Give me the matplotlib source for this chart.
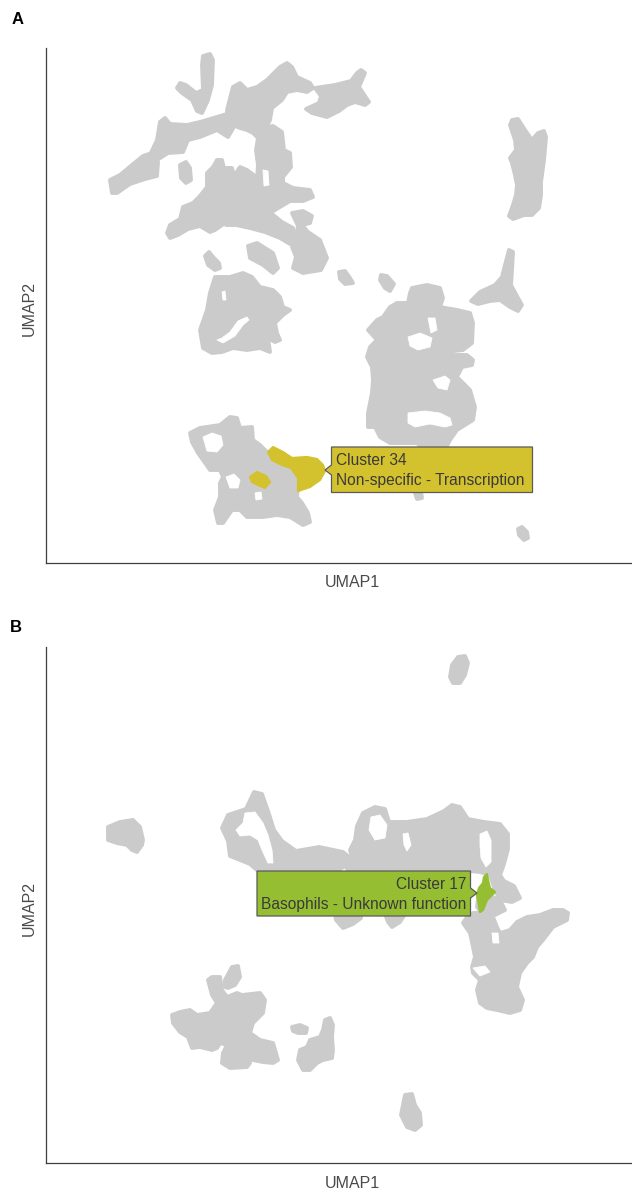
import matplotlib
matplotlib.use("Agg")
import matplotlib.pyplot as plt
from matplotlib.patches import Polygon

plt.rcParams['font.family'] = ['Liberation Sans', 'DejaVu Sans']

# ---------------- data: cluster outlines in UMAP units -------------
# Panel A (UMAP2 grows downward in these units -> axis inverted)
a_finger = [(203,56),(210,54),(213,60),(212,85),(208,100),(202,113),(197,111),(192,100),(182,93),(177,88),(180,83),(186,85),(196,93),(203,90),(202,65)]
a_left_lobe = [(110,180),(112,193),(117,193),(130,184),(145,179),(157,176),(158,162),(152,153),(143,156),(132,165),(120,175)]
a_band = [(150,155),(157,140),(160,122),(165,118),(170,124),(187,125),(200,122),(217,117),(230,113),(235,125),(228,137),(217,130),(200,137),(188,140),(183,152),(168,153),(157,160)]
a_top_mid = [(227,110),(233,87),(240,83),(247,90),(257,87),(267,80),(280,67),(287,63),(292,67),(297,77),(310,83),(313,88),(307,92),(297,90),(287,92),(282,100),(272,108),(270,120),(265,130),(257,137),(253,133),(247,130),(240,128),(233,125),(228,117)]
a_top_right = [(315,88),(335,85),(351,81),(357,73),(361,70),(365,73),(359,87),(365,96),(369,102),(365,105),(355,102),(347,105),(339,111),(327,117),(312,113),(306,109),(319,103),(321,96)]
a_column = [(260,128),(273,126),(282,132),(284,150),(290,153),(291,167),(283,177),(283,183),(293,188),(310,190),(313,197),(303,201),(290,201),(280,207),(270,213),(262,208),(258,195),(257,180),(258,165),(256,150),(258,138)]
a_wing = [(167,233),(170,225),(180,219),(183,207),(193,203),(200,196),(207,187),(207,173),(213,167),(217,160),(222,160),(224,168),(232,168),(234,176),(240,167),(247,170),(255,176),(258,193),(262,205),(258,212),(245,214),(232,216),(225,223),(215,230),(210,232),(200,226),(188,229),(178,235),(170,238)]
a_lower_band = [(228,214),(250,216),(262,210),(272,214),(282,222),(293,228),(296,240),(290,244),(280,238),(265,232),(250,228),(236,225),(226,225)]
a_knob_blob = [(292,213),(303,211),(312,216),(310,223),(302,225),(308,232),(320,240),(327,258),(321,270),(303,273),(293,268),(296,257),(292,247),(296,236),(298,226)]
a_dot1 = [(180,165),(186,162),(190,168),(191,180),(186,183),(181,178)]
a_dot2 = [(205,256),(209,252),(214,258),(219,263),(220,268),(215,270),(208,265)]
a_dot3 = [(248,246),(257,243),(273,253),(278,268),(273,273),(263,265),(250,258)]
a_mid_left = [(215,277),(230,277),(243,273),(252,277),(260,287),(273,290),(280,297),(283,307),(290,310),(283,315),(275,323),(277,333),(280,340),(275,342),(268,338),(270,352),(260,348),(247,350),(233,348),(222,352),(212,353),(203,348),(200,330),(207,310),(210,293)]
a_dot4 = [(339,272),(345,271),(350,278),(353,283),(345,284),(340,279)]
a_dot5 = [(381,275),(387,276),(394,284),(390,291),(385,288),(380,280)]
a_right_arm = [(509,250),(513,252),(512,270),(511,285),(518,298),(522,305),(518,311),(510,307),(500,300),(490,301),(478,304),(471,301),(480,292),(495,285),(502,277),(505,265)]
a_right_top = [(512,120),(518,119),(525,130),(532,140),(538,133),(544,131),(546,137),(544,160),(541,182),(541,195),(539,208),(532,215),(524,215),(513,219),(509,216),(513,205),(516,195),(517,185),(515,175),(512,163),(510,158),(516,150),(515,140),(510,125)]
a_right_net = [(412,288),(427,285),(440,288),(443,298),(440,307),(457,310),(470,313),(473,323),(472,343),(463,350),(445,352),(450,355),(467,355),(473,360),(472,365),(462,367),(457,377),(470,390),(475,407),(473,420),(457,430),(450,440),(447,446),(420,446),(417,443),(390,443),(380,437),(375,427),(368,427),(368,413),(372,393),(373,380),(372,367),(367,357),(370,347),(377,340),(368,330),(377,320),(383,317),(390,307),(397,303),(408,303),(410,293)]
a_bottom_left = [(190,433),(200,428),(220,425),(230,417),(237,418),(240,428),(252,427),(253,440),(260,445),(267,452),(273,460),(282,465),(290,467),(297,477),(298,487),(297,497),(302,503),(308,513),(310,522),(303,525),(290,517),(277,515),(263,517),(247,517),(240,510),(232,510),(223,523),(218,523),(215,510),(220,497),(220,483),(223,477),(220,470),(210,470),(203,460),(198,453),(192,442)]
a_dot6 = [(518,529),(522,527),(527,532),(528,538),(524,540),(519,535)]
a_dot7 = [(415,493),(421,492),(422,498),(417,499)]
a_gaps = [
    [(217,340),(223,343),(235,336),(243,325),(249,320),(247,317),(238,321),(230,332),(222,338)],
    [(222,292),(225,291),(226,300),(223,300)],
    [(408,337),(420,333),(432,338),(430,347),(418,350),(410,346)],
    [(408,413),(425,411),(440,413),(450,418),(452,425),(445,427),(430,424),(415,427),(408,423)],
    [(433,380),(445,376),(450,380),(447,390),(438,388)],
    [(428,318),(435,318),(437,330),(431,333)],
    [(203,437),(212,433),(221,436),(223,445),(217,452),(207,451)],
    [(226,477),(234,474),(240,480),(238,488),(230,488)],
    [(255,493),(261,492),(262,499),(256,500)],
    [(263,170),(268,171),(269,185),(264,186)],
]
a_cluster34 = [
    [(268,452),(273,447),(283,452),(292,458),(307,457),(317,459),(323,465),(325,471),(320,480),(310,487),(298,491),(298,478),(291,468),(282,465),(272,460)],
    [(250,477),(257,472),(266,476),(270,482),(265,488),(258,485),(252,482)],
]
a_label = ["Cluster 34", "Non-specific - Transcription"]

# Panel B
b_left = [(108,827),(120,822),(133,820),(140,827),(143,840),(142,845),(137,852),(132,850),(127,845),(117,843),(108,840)]
b_top = [(452,665),(458,657),(465,656),(468,663),(465,675),(460,683),(453,683),(450,677)]
b_bottom = [(405,1095),(412,1094),(415,1105),(420,1113),(421,1125),(415,1130),(407,1127),(401,1115),(403,1105)]
b_net_left = [(222,828),(228,815),(246,809),(254,792),(262,794),(268,811),(274,830),(282,841),(296,851),(319,847),(343,852),(353,860),(345,866),(335,872),(300,872),(270,872),(258,871),(250,864),(230,856),(228,841)]
b_net_right = [(357,826),(363,813),(375,807),(385,809),(389,822),(407,822),(427,819),(444,811),(452,805),(460,807),(468,819),(484,822),(500,824),(508,834),(508,849),(504,864),(500,875),(504,881),(514,886),(520,898),(512,902),(500,900),(495,890),(490,875),(480,872),(470,871),(420,871),(380,871),(350,872),(345,866),(353,860),(350,850),(355,840)]
b_under1 = [(335,914),(360,914),(361,918),(353,924),(343,928),(336,920)]
b_under2 = [(385,914),(405,914),(400,922),(392,927),(388,922)]
b_link = [(478,898),(490,896),(500,900),(505,910),(495,915),(483,915),(477,907)]
b_wing = [(480,913),(473,913),(467,917),(463,923),(470,933),(473,947),(475,957),(472,967),(473,973),(480,980),(477,990),(480,1003),(487,1008),(497,1010),(510,1013),(520,1010),(523,1000),(517,987),(520,973),(527,963),(533,957),(537,947),(543,940),(553,927),(567,920),(568,913),(563,910),(553,910),(540,915),(527,917),(517,922),(510,930),(500,933),(497,927),(493,917),(487,913)]
b_lower_left = [(172,1015),(180,1012),(190,1010),(197,1015),(210,1013),(217,1003),(212,995),(208,980),(212,977),(220,977),(222,990),(227,997),(237,993),(242,995),(260,993),(265,1000),(263,1013),(253,1023),(250,1033),(260,1040),(273,1043),(278,1060),(273,1063),(263,1062),(253,1060),(248,1057),(250,1063),(247,1067),(230,1068),(222,1063),(223,1053),(227,1045),(220,1043),(217,1048),(212,1050),(200,1047),(192,1048),(188,1037),(180,1032),(173,1023)]
b_sliver = [(225,980),(232,967),(238,966),(240,977),(235,985),(228,988),(225,987)]
b_dot = [(292,1027),(300,1025),(307,1028),(306,1033),(298,1033),(293,1031)]
b_lower_mid = [(325,1020),(330,1018),(333,1025),(332,1037),(333,1050),(332,1058),(323,1060),(317,1063),(310,1070),(303,1070),(298,1060),(300,1050),(307,1047),(310,1040),(320,1037),(323,1030)]
b_gaps = [
    [(245,813),(255,812),(263,823),(268,835),(272,850),(273,863),(268,863),(262,850),(258,840),(250,835),(240,836),(236,830),(243,823)],
    [(371,817),(380,815),(387,825),(385,838),(375,840),(369,830)],
    [(403,834),(408,833),(411,845),(407,851),(404,845)],
    [(480,834),(487,831),(491,840),(491,862),(486,867),(481,858),(480,845)],
    [(492,933),(498,933),(499,943),(493,943)],
    [(473,968),(485,966),(490,972),(480,976)],
]
b_cluster17 = [[(487,874),(488,880),(490,888),(495,892),(492,895),(487,900),(483,910),(480,912),(478,900),(477,895),(479,888),(483,883),(484,877)]]
b_label = ["Cluster 17", "Basophils - Unknown function"]

A_gray = [a_finger, a_left_lobe, a_band, a_top_mid, a_top_right, a_column, a_wing, a_lower_band,
          a_knob_blob, a_dot1, a_dot2, a_dot3, a_mid_left, a_dot4, a_dot5, a_right_arm, a_right_top,
          a_right_net, a_bottom_left, a_dot6, a_dot7]
B_gray = [b_left, b_top, b_bottom, b_net_left, b_net_right, b_under1, b_under2, b_link, b_wing,
          b_lower_left, b_sliver, b_dot, b_lower_mid]

GRAY = '#cbcbcb'
YELLOW = '#d3c22e'
GREEN = '#96be32'
TEXT = '#3a3a3a'
AXIS = '#3f3f3f'

W, H = 632, 1191
fig = plt.figure(figsize=(W/100, H/100), dpi=100)


def make_axes(top, bottom):
    ax = fig.add_axes([46/W, 1 - bottom/H, 1 - 46/W, (bottom - top)/H])
    ax.set_xlim(46, 632)
    ax.set_ylim(bottom, top)
    for s in ['top', 'right']:
        ax.spines[s].set_visible(False)
    for s in ['left', 'bottom']:
        ax.spines[s].set_color(AXIS)
        ax.spines[s].set_linewidth(0.9)
    ax.set_xticks([])
    ax.set_yticks([])
    ax.patch.set_alpha(0)
    return ax


def draw(ax, gray, gaps, hl, hl_color):
    for p in gray:
        ax.add_patch(Polygon(p, closed=True, facecolor=GRAY, edgecolor=GRAY, lw=2.8,
                             joinstyle='round', zorder=1))
    for p in gaps:
        ax.add_patch(Polygon(p, closed=True, facecolor='white', edgecolor='white', lw=0.6,
                             joinstyle='round', zorder=2))
    for p in hl:
        ax.add_patch(Polygon(p, closed=True, facecolor=hl_color, edgecolor=hl_color, lw=1.6,
                             joinstyle='round', zorder=3))


def label_box(ax, x0, x1, y0, y1, side, tip, lines, color):
    ym = tip[1]
    if side == 'left':
        pts = [(x0, y0), (x1, y0), (x1, y1), (x0, y1), (x0, ym + 5), tip, (x0, ym - 5)]
        tx, ha = x0 + 4.5, 'left'
    else:
        pts = [(x0, y0), (x1, y0), (x1, ym - 5), tip, (x1, ym + 5), (x1, y1), (x0, y1)]
        tx, ha = x1 - 4.5, 'right'
    ax.add_patch(Polygon(pts, closed=True, facecolor=color, edgecolor='#5a5a5a', lw=0.9, zorder=4))
    h = (y1 - y0)
    ax.text(tx, y0 + h * 0.29, lines[0], ha=ha, va='center', fontsize=11.2, color=TEXT, zorder=5)
    ax.text(tx, y0 + h * 0.74, lines[1], ha=ha, va='center', fontsize=11.2, color=TEXT, zorder=5)


# Panel A
axA = make_axes(48, 563)
draw(axA, A_gray, a_gaps, a_cluster34, YELLOW)
label_box(axA, 331.5, 532.5, 447, 492.5, 'left', (325, 470), a_label, YELLOW)

# Panel B
axB = make_axes(647, 1163)
draw(axB, B_gray, b_gaps, b_cluster17, GREEN)
label_box(axB, 257, 470.5, 871, 916, 'right', (477, 893), b_label, GREEN)

# axis titles and panel letters
lab = dict(fontsize=11.5, color='#4a4a4a', ha='center', va='center')
fig.text(352/W, 1 - 583/H, 'UMAP1', **lab)
fig.text(29/W, 1 - 308/H, 'UMAP2', rotation=90, **lab)
fig.text(352/W, 1 - 1184/H, 'UMAP1', **lab)
fig.text(29/W, 1 - 908/H, 'UMAP2', rotation=90, **lab)
fig.text(18/W, 1 - 19/H, 'A', fontsize=12, fontweight='bold', color='black', ha='center', va='center')
fig.text(16/W, 1 - 628/H, 'B', fontsize=12, fontweight='bold', color='black', ha='center', va='center')

fig.savefig('out.png', dpi=100, facecolor='white')
